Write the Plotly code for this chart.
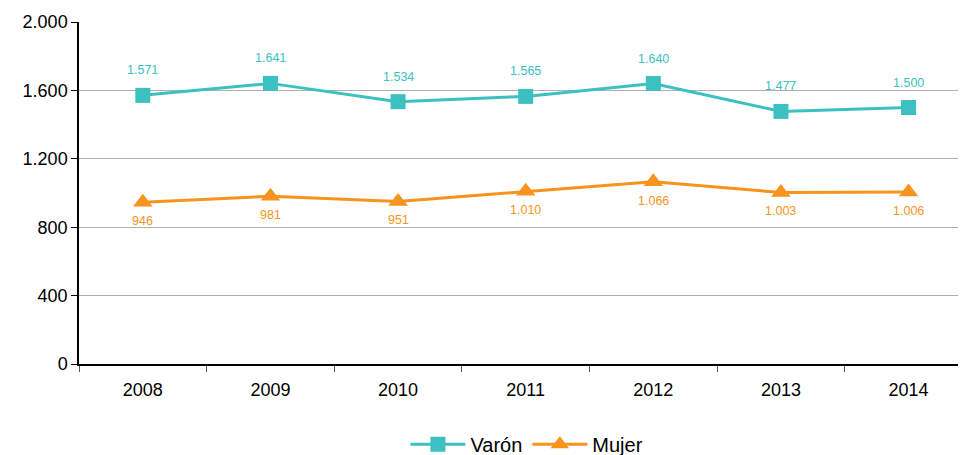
import plotly.graph_objects as go

years = ["2008", "2009", "2010", "2011", "2012", "2013", "2014"]
varon = [1571, 1641, 1534, 1565, 1640, 1477, 1500]
mujer = [946, 981, 951, 1010, 1066, 1003, 1006]
y_ticks = [0, 400, 800, 1200, 1600, 2000]

TEAL = "#3cc0c0"
ORANGE = "#f7941d"

def fmt(v):
    return f"{v:,}".replace(",", ".")

fig = go.Figure()
fig.add_trace(go.Scatter(
    x=years, y=varon, name="Varón", mode="lines+markers",
    line=dict(color=TEAL, width=3),
    marker=dict(symbol="square", size=15, color=TEAL),
))
fig.add_trace(go.Scatter(
    x=years, y=mujer, name="Mujer", mode="lines+markers",
    line=dict(color=ORANGE, width=3),
    marker=dict(symbol="triangle-up", size=17, color=ORANGE),
))

# on a category axis annotation x is the category index
for i, v in enumerate(varon):
    fig.add_annotation(x=i, y=v, xref="x", yref="y", text=fmt(v), showarrow=False,
                       yshift=25, font=dict(color=TEAL, size=12.5))
for i, v in enumerate(mujer):
    fig.add_annotation(x=i, y=v, xref="x", yref="y", text=fmt(v), showarrow=False,
                       yshift=-19, font=dict(color=ORANGE, size=12.5))

# page body adds an 8px offset, so the figure is 8px smaller on each axis
fig.update_layout(
    width=958, height=447,
    margin=dict(l=71, r=0, t=14, b=91, autoexpand=False),
    paper_bgcolor="white", plot_bgcolor="white",
    separators=",.",
    font=dict(family="Liberation Sans", size=18, color="#000"),
    showlegend=True,
    legend=dict(orientation="h", x=0.505, xanchor="center", y=-0.235, yanchor="middle",
                font=dict(size=20, color="#000"), itemwidth=55, traceorder="normal"),
)
fig.update_xaxes(
    type="category", range=[-0.5, 6.45], automargin=False,
    showline=True, linecolor="#000", linewidth=1.5,
    ticks="outside", tickson="boundaries", ticklen=6, tickcolor="#555",
    ticklabelstandoff=9,
    showgrid=False, tickfont=dict(size=18),
)
fig.update_yaxes(
    range=[0, 2000], tickvals=y_ticks, tickformat=",d", automargin=False,
    showline=True, linecolor="#000", linewidth=1.5,
    ticks="outside", ticklen=6, tickcolor="#000",
    showgrid=True, gridcolor="#b0b0b0", gridwidth=1,
    zeroline=False, tickfont=dict(size=18),
)

fig.write_html("out.html")
